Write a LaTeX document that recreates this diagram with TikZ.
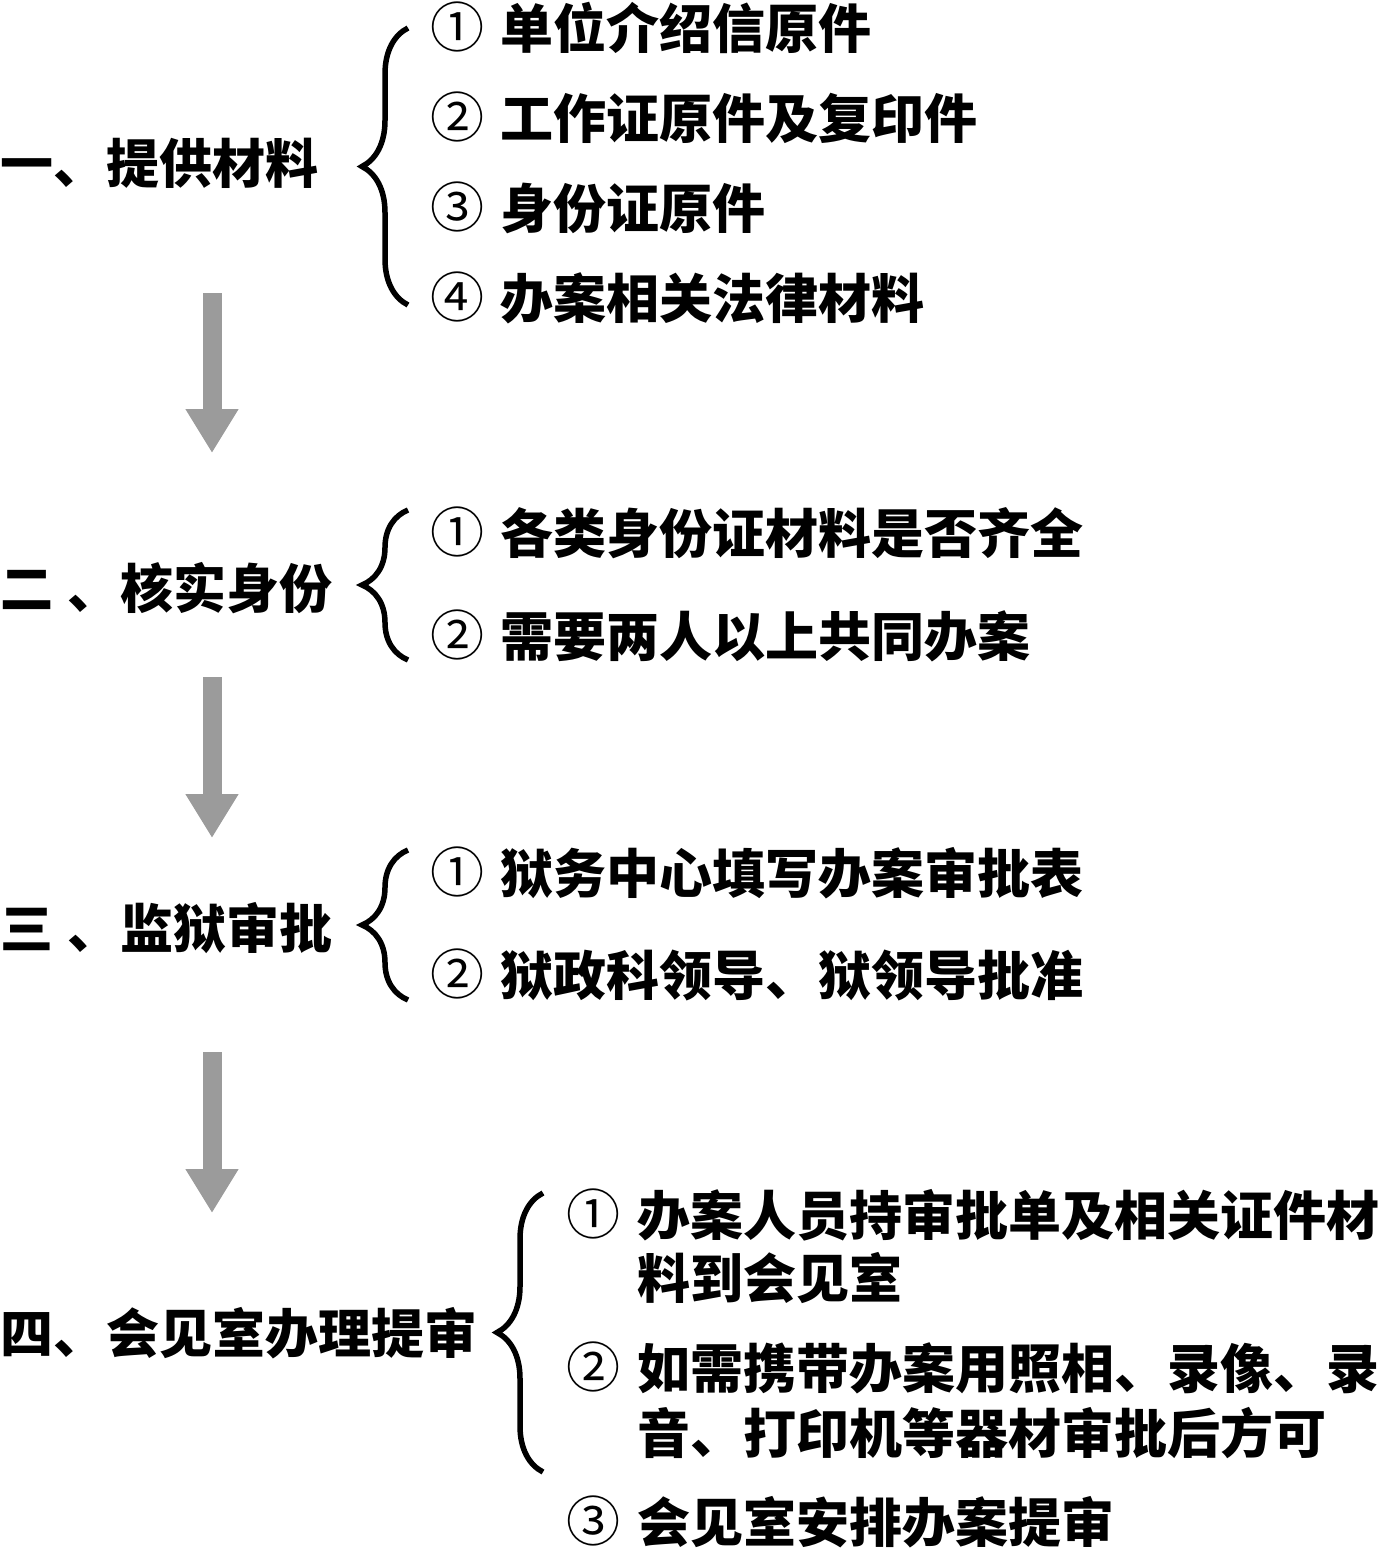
\documentclass[tikz,border=0pt]{standalone}
\usepackage{fontspec}
\usepackage{tikz}
\usetikzlibrary{arrows.meta, decorations.pathreplacing}
\newfontfamily\cjk{Noto Sans CJK SC}
\IfFontExistsTF{Noto Sans CJK SC Black}
    {\newfontfamily\cjkheavy{Noto Sans CJK SC Black}}
    {\newfontfamily\cjkheavy{Noto Sans CJK SC Bold}}
\definecolor{flowgray}{RGB}{155,155,155}
\tikzset{
    stage/.style={anchor=west, inner sep=0pt, text height=47pt, text depth=6pt,
        font=\cjkheavy\fontsize{53}{63}\selectfont},
    item/.style={stage},
    num/.style={inner sep=0pt, text height=47pt, text depth=6pt,
        font=\cjk\fontsize{54}{63}\selectfont},
    curly/.style={decorate, decoration={brace, amplitude=#1}, line width=5.5pt},
}
\tikzstyle{flowarrow} = [-{Triangle[width=50pt, length=44pt]}, line width=19pt, draw=flowgray]

\begin{document}
\begin{tikzpicture}[x=1pt, y=-1pt]
    \useasboundingbox (0,0) rectangle (1380,1555);

    \node[stage] (s1) at (0,163) {一、提供材料};
    \draw[curly=46pt] (408,305) -- (408,28);
    \node[num]  (n11) at (457,27)  {①};
    \node[item] (t11) at (500,28)  {单位介绍信原件};
    \node[num]  (n12) at (457,117) {②};
    \node[item] (t12) at (500,118) {工作证原件及复印件};
    \node[num]  (n13) at (457,207) {③};
    \node[item] (t13) at (500,208) {身份证原件};
    \node[num]  (n14) at (457,297) {④};
    \node[item] (t14) at (500,298) {办案相关法律材料};

    \coordinate (a1s) at (212,293);
    \coordinate (a1e) at (212,453);
    \draw[flowarrow] (a1s) -- (a1e);

    \node[stage] (s2) at (0,588) {二\hspace{14pt}、核实身份};
    \draw[curly=46pt] (408,660) -- (408,510);
    \node[num]  (n21) at (457,532) {①};
    \node[item] (t21) at (500,533) {各类身份证材料是否齐全};
    \node[num]  (n22) at (457,635) {②};
    \node[item] (t22) at (500,636) {需要两人以上共同办案};

    \coordinate (a2s) at (212,677);
    \coordinate (a2e) at (212,838);
    \draw[flowarrow] (a2s) -- (a2e);

    \node[stage] (s3) at (0,928) {三\hspace{14pt}、监狱审批};
    \draw[curly=46pt] (408,1000) -- (408,850);
    \node[num]  (n31) at (457,872) {①};
    \node[item] (t31) at (500,873) {狱务中心填写办案审批表};
    \node[num]  (n32) at (457,974) {②};
    \node[item] (t32) at (500,975) {狱政科领导、狱领导批准};

    \coordinate (a3s) at (212,1052);
    \coordinate (a3e) at (212,1213);
    \draw[flowarrow] (a3s) -- (a3e);

    \node[stage] (s4) at (0,1333) {四、会见室办理提审};
    \draw[curly=46pt] (543,1472) -- (543,1193);
    \node[num]  (n41)  at (593,1214) {①};
    \node[item] (t41)  at (637,1215) {办案人员持审批单及相关证件材};
    \node[item] (t41b) at (637,1278) {料到会见室};
    \node[num]  (n42)  at (593,1367) {②};
    \node[item] (t42)  at (637,1368) {如需携带办案用照相、录像、录};
    \node[item] (t42b) at (637,1433) {音、打印机等器材审批后方可};
    \node[num]  (n43)  at (593,1521) {③};
    \node[item] (t43)  at (637,1522) {会见室安排办案提审};
\end{tikzpicture}
\end{document}
